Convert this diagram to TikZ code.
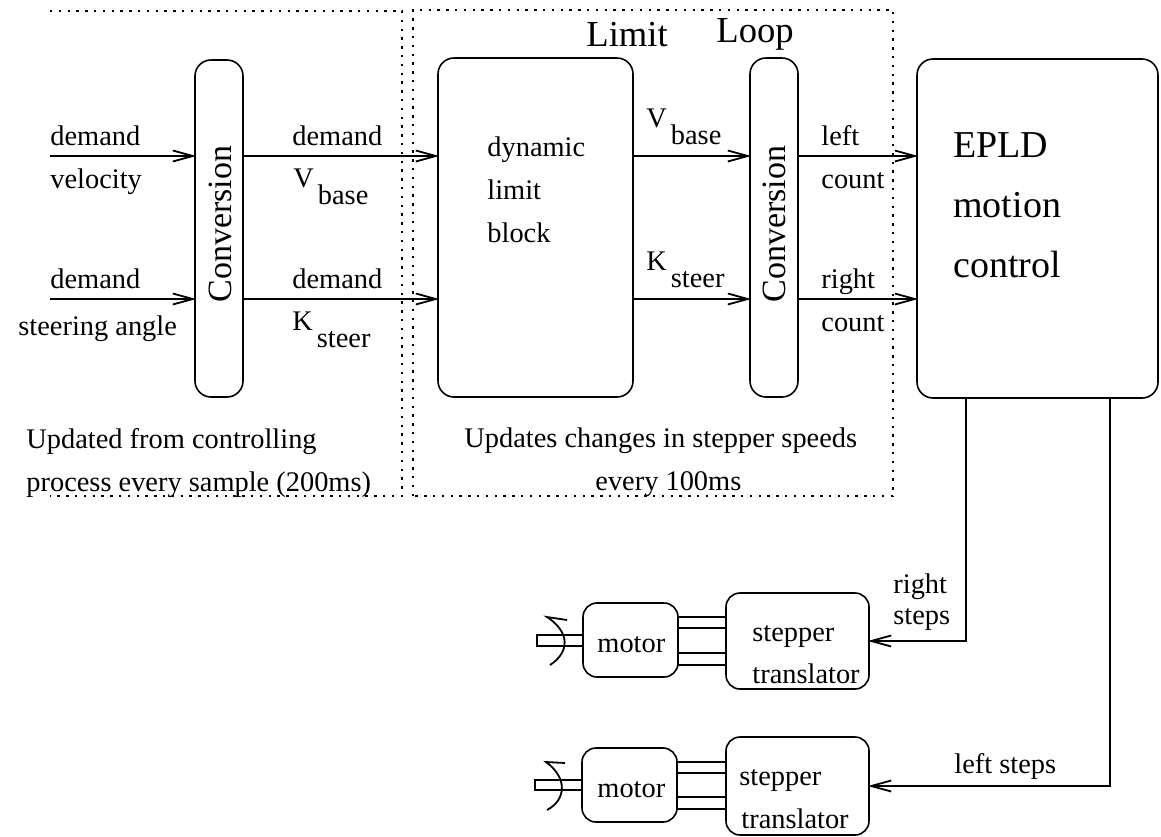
\documentclass[tikz,border=0pt]{standalone}
\usepackage{fontspec}
\setmainfont{Liberation Serif}
\usetikzlibrary{arrows.meta}
\tikzstyle{block}=[draw,line width=0.8pt,rounded corners=8pt,inner sep=0pt,outer sep=0pt]
\tikzstyle{smallblock}=[draw,line width=0.8pt,rounded corners=7pt,inner sep=0pt,outer sep=0pt]
\tikzstyle{edge} = [draw,line width=0.9pt,shorten >=-0.6pt,-{Straight Barb[length=10pt,width=5.5pt]}]
\tikzstyle{wire} = [draw,line width=0.9pt]
\tikzstyle{frame} = [draw,line width=1.1pt,dash pattern=on 1.2pt off 3.2pt]
\tikzstyle{lab} = [anchor=base west,inner sep=0pt,font=\fontsize{14.2}{17}\selectfont]
\tikzstyle{biglab} = [anchor=base west,inner sep=0pt,font=\fontsize{18.3}{20}\selectfont]
\tikzstyle{epldlab} = [anchor=base west,inner sep=0pt,font=\fontsize{19}{20}\selectfont]
\tikzstyle{vertlab} = [inner sep=0pt,rotate=90,font=\fontsize{17}{20}\selectfont]
\newcommand{\lowered}[2]{#1\hspace{2pt}\raisebox{-8.5pt}{#2}}

\begin{document}
\begin{tikzpicture}[x=0.5pt, y=-0.5pt]
    \useasboundingbox (0,0) rectangle (1161,836);
    % First we draw the blocks
    \foreach \pos/\name/\boxw/\boxh in {{(219,228.5)/convA/48/337}, {(535.5,227.5)/dyn/195/339}, {(774,227.5)/convB/48/339}, {(1037.5,228.5)/epld/241/339}}
        \node[block, minimum width=0.5pt*\boxw, minimum height=0.5pt*\boxh] (\name) at \pos {};
    \foreach \pos/\name/\boxw/\boxh in {{(630.5,640)/motorA/95/74}, {(797.5,641)/stepperA/143/96}, {(629.5,785)/motorB/95/74}, {(797.5,786)/stepperB/143/98}}
        \node[smallblock, minimum width=0.5pt*\boxw, minimum height=0.5pt*\boxh] (\name) at \pos {};
    % Free ends of the connectors
    \coordinate (velocityin) at (50,156);
    \coordinate (steerin) at (50,299);
    \coordinate (rightturn) at (966,641);
    \coordinate (leftturn) at (1110,786);
    % Connect blocks with arrows
    \path[edge] (velocityin) -- (velocityin -| convA.west);
    \path[edge] (steerin) -- (steerin -| convA.west);
    \foreach \source/\dest/\ypos in {convA/dyn/156, convA/dyn/299, dyn/convB/156, dyn/convB/299, convB/epld/156, convB/epld/299}
        \path[edge] (\source.east |- 0,\ypos) -- (\dest.west |- 0,\ypos);
    \path[edge] (epld.south -| rightturn) -- (rightturn) -- (rightturn -| stepperA.east);
    \path[edge] (epld.south -| leftturn) -- (leftturn) -- (leftturn -| stepperB.east);
    % Wires from translators to motors
    \foreach \ypos in {617,628,653,665}
        \path[wire] (motorA.east |- 0,\ypos) -- (stepperA.west |- 0,\ypos);
    \foreach \ypos in {762,773,797,809}
        \path[wire] (motorB.east |- 0,\ypos) -- (stepperB.west |- 0,\ypos);
    % Shafts
    \path[wire] (motorA.west |- 0,635) -- (537,635) -- (537,646) -- (motorA.west |- 0,646);
    \path[wire] (motorB.west |- 0,780) -- (535,780) -- (535,790) -- (motorB.west |- 0,790);
    \path[wire] (567,620) -- (547,617) .. controls (570,632) and (570,652) .. (550,665);
    \path[wire] (565,763) -- (546,762) .. controls (568,778) and (566,800) .. (547,810);
    % Dotted regions
    \path[frame] (50,11) -- (402,11) -- (402,496) -- (50,496);
    \path[frame] (413,496) -- (413,10) -- (893,10) -- (893,496) -- cycle;
    % Labels
    \foreach \pos/\name/\txt in {{(50,145)/demandA/demand}, {(50,188)/velocity/velocity}, {(50,288)/demandB/demand}, {(18,335)/steerangle/steering angle},
        {(292,145)/demandC/demand}, {(293,187)/vbaseA/\lowered{V}{base}}, {(292,288)/demandD/demand}, {(292,330)/ksteerA/\lowered{K}{steer}},
        {(487,156)/dynamic/dynamic}, {(487,199)/limit/limit}, {(487,242)/blocklab/block},
        {(646,127)/vbaseB/\lowered{V}{base}}, {(646,270)/ksteerB/\lowered{K}{steer}},
        {(821,145)/left/left}, {(821,188)/countA/count}, {(821,288)/right/right}, {(821,331)/countB/count},
        {(26,448)/updatedA/Updated from controlling}, {(26,491)/updatedB/process every sample (200ms)},
        {(464,447)/updatesA/Updates changes in stepper speeds}, {(595,490)/updatesB/every 100ms},
        {(893,593)/rightsteps/right}, {(893,624)/steps/steps}, {(954,773)/leftsteps/left steps},
        {(597,652)/motorlabA/motor}, {(597,797)/motorlabB/motor},
        {(752,641)/stepperlabA/stepper}, {(752,683)/translabA/translator},
        {(739,785)/stepperlabB/stepper}, {(741,828)/translabB/translator}}
        \node[lab] (\name) at \pos {\txt};
    \foreach \pos/\name/\txt in {{(586,46)/limitlab/Limit}, {(716,42)/looplab/Loop}}
        \node[biglab] (\name) at \pos {\txt};
    \foreach \pos/\name/\txt in {{(953,157)/epldtext/EPLD}, {(953,217)/motiontext/motion}, {(953,277)/controltext/control}}
        \node[epldlab] (\name) at \pos {\txt};
    \node[vertlab] (convAtext) at (220,224) {Conversion};
    \node[vertlab] (convBtext) at (774,224) {Conversion};
\end{tikzpicture}
\end{document}
